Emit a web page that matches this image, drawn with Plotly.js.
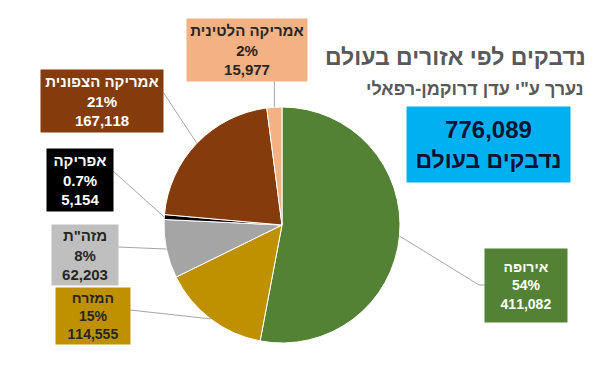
<!DOCTYPE html>
<html><head><meta charset="utf-8">
<script src="https://cdn.plot.ly/plotly-3.0.1.min.js"></script>
<style>body{margin:0;background:#fff}#chart{width:594px;height:366px}</style>
</head><body><div id="chart"></div>
<script>
const regions = ['אירופה','המזרח','מזה"ת','אפריקה','אמריקה הצפונית','אמריקה הלטינית'];
const values = [411082, 114555, 62203, 5154, 167118, 15977];
const pctLabels = ['54%','15%','8%','0.7%','21%','2%'];
const valueLabels = ['411,082','114,555','62,203','5,154','167,118','15,977'];
const colors = ['#548235','#BF9000','#A5A5A5','#000000','#843C0C','#F4B183'];
const boxColors = ['#548235','#BF9000','#BFBFBF','#000000','#843C0C','#F4B183'];
const textColors = ['#ffffff','#262626','#262626','#ffffff','#ffffff','#262626'];
const totalLabel = '776,089';

const W = 594, H = 366;
const cx = 282, cy = 225, R = 118;
const px = x => x / W, py = y => 1 - y / H;

const boxes = [
  {x: 526, y: 285, w: 82, h: 73, side: 'left', fs: 14},
  {x: 93, y: 316, w: 74, h: 56, side: 'right', fs: 14},
  {x: 85, y: 255, w: 66, h: 60, side: 'right', fs: 15},
  {x: 80, y: 180, w: 66, h: 62, side: 'right', fs: 15},
  {x: 102, y: 101, w: 122, h: 62, side: 'right', fs: 15},
  {x: 247, y: 50, w: 120, h: 62, side: 'bottom', fs: 15}
];

const total = values.reduce((a,b)=>a+b,0);
let cum = 0;
const shapes = [], annotations = [];
values.forEach((v,i)=>{
  const mid = (cum + v/2) / total; cum += v;
  const ang = mid * 2 * Math.PI;
  const ex = cx + R * Math.sin(ang), ey = cy - R * Math.cos(ang);
  const b = boxes[i];
  let sx, sy;
  if (b.side === 'right') { sx = b.x + b.w/2; sy = b.y - b.h/2 + 22; }
  else if (b.side === 'left') { sx = b.x - b.w/2; sy = b.y; }
  else { sx = ex; sy = b.y + b.h/2; }
  if (i === 0) {
    shapes.push({type:'line', xref:'paper', yref:'paper', x0:px(ex), y0:py(ey), x1:px(sx-6), y1:py(sy), line:{color:'#A6A6A6', width:1}});
    shapes.push({type:'line', xref:'paper', yref:'paper', x0:px(sx-6), y0:py(sy), x1:px(sx), y1:py(sy), line:{color:'#A6A6A6', width:1}});
  } else {
    shapes.push({type:'line', xref:'paper', yref:'paper', x0:px(sx), y0:py(sy), x1:px(ex), y1:py(ey), line:{color:'#A6A6A6', width:1}});
  }
  annotations.push({
    xref:'paper', yref:'paper', x:px(b.x), y:py(b.y), xanchor:'center', yanchor:'middle',
    showarrow:false, width:b.w, height:b.h, bgcolor:boxColors[i], borderpad:0,
    text:'<b>'+regions[i]+'<br>'+pctLabels[i]+'<br>'+valueLabels[i]+'</b>',
    font:{family:'Liberation Sans, Arial', size:b.fs, color:textColors[i]}, align:'center'
  });
});

annotations.push({xref:'paper', yref:'paper', x:px(488), y:py(144), xanchor:'center', yanchor:'middle',
  showarrow:false, width:161, height:73, bgcolor:'#00B0F0',
  text:'<b><span style="font-size:24px">'+totalLabel+'</span><br>נדבקים בעולם</b>',
  font:{family:'Liberation Sans, Arial', size:23, color:'#111133'}});
annotations.push({xref:'paper', yref:'paper', x:px(588), y:py(57), xanchor:'right', yanchor:'middle',
  showarrow:false, text:'<b>נדבקים לפי אזורים בעולם</b>',
  font:{family:'Liberation Sans, Arial', size:23, color:'#595959'}});
annotations.push({xref:'paper', yref:'paper', x:px(586), y:py(89), xanchor:'right', yanchor:'middle',
  showarrow:false, text:'<b>נערך ע"י עדן דרוקמן-רפאלי</b>',
  font:{family:'Liberation Sans, Arial', size:18, color:'#595959'}});

const trace = {
  type:'pie', labels:regions, values:values, sort:false, direction:'clockwise', rotation:0,
  textinfo:'none', hoverinfo:'label+value',
  marker:{colors:colors, line:{color:'#ffffff', width:1}},
  domain:{x:[px(cx-R), px(cx+R)], y:[py(cy+R), py(cy-R)]}, showlegend:false
};
Plotly.newPlot('chart', [trace], {
  width:W, height:H, margin:{l:0,r:0,t:0,b:0}, paper_bgcolor:'#ffffff',
  shapes:shapes, annotations:annotations, showlegend:false
}, {staticPlot:true});
</script></body></html>
